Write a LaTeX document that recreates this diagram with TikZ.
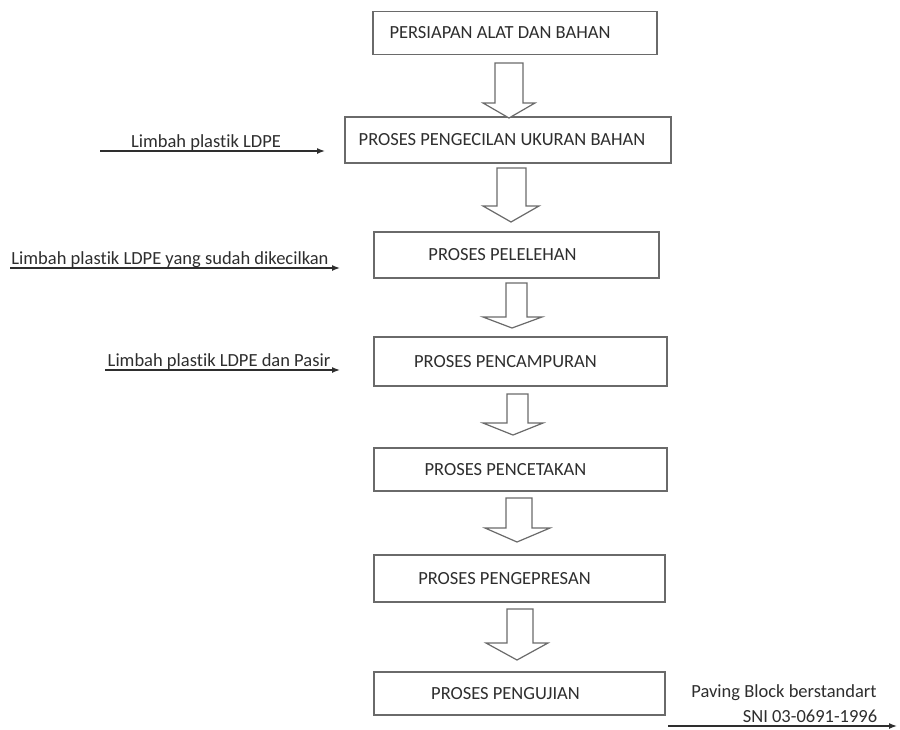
\documentclass[tikz,border=0pt]{standalone}
\usepackage{fontspec}
\setmainfont{Carlito}[Ligatures=NoCommon]
\usetikzlibrary{arrows.meta}
\definecolor{txt}{HTML}{2E2E2E}
\definecolor{edge}{HTML}{6A6A6A}
\begin{document}
\begin{tikzpicture}[x=1pt,y=-1pt,
  box/.style={draw=edge, line width=1.4pt, inner sep=0pt, text=txt, font=\fontsize{18.5}{22}\selectfont},
  blockarrow/.style={draw=edge, line width=1.2pt, fill=white, line join=miter},
  side/.style={draw=txt, line width=1.4pt, -{Latex[length=8pt,width=6pt]}},
  lbl/.style={text=txt, inner sep=0pt, anchor=base, font=\fontsize{18.5}{22}\selectfont}]
\useasboundingbox (0,0) rectangle (900,729);
\fill[white] (0,0) rectangle (900,729);
% process boxes
\node[box, minimum width=284pt, minimum height=43pt] (b1) at (515,33) {PERSIAPAN ALAT DAN BAHAN\hspace*{30pt}};
\node[box, minimum width=326pt, minimum height=46pt] (b2) at (508,140) {PROSES PENGECILAN UKURAN BAHAN\hspace*{12pt}};
\node[box, minimum width=285pt, minimum height=46pt] (b3) at (516.5,255) {PROSES PELELEHAN\hspace*{28pt}};
\node[box, minimum width=293pt, minimum height=49pt] (b4) at (520.5,361.5) {PROSES PENCAMPURAN\hspace*{30pt}};
\node[box, minimum width=293pt, minimum height=43pt] (b5) at (520.5,469.5) {PROSES PENCETAKAN\hspace*{30pt}};
\node[box, minimum width=291pt, minimum height=47pt] (b6) at (519.5,578.5) {PROSES PENGEPRESAN\hspace*{30pt}};
\node[box, minimum width=291pt, minimum height=43pt] (b7) at (519.5,693.5) {PROSES PENGUJIAN\hspace*{28pt}};
% block arrows
\draw[blockarrow] (495,63) -- (523,63) -- (523,103) -- (535,103) -- (509,118) -- (483,103) -- (495,103) -- cycle;
\draw[blockarrow] (497,168) -- (526,168) -- (526,206) -- (539,206) -- (511,222) -- (483,206) -- (497,206) -- cycle;
\draw[blockarrow] (506,283) -- (527,283) -- (527,317) -- (542,317) -- (512,328) -- (483,317) -- (506,317) -- cycle;
\draw[blockarrow] (507,394) -- (528,394) -- (528,423) -- (543,423) -- (513,435) -- (483,423) -- (507,423) -- cycle;
\draw[blockarrow] (506,498) -- (532,498) -- (532,528) -- (550,528) -- (517,542) -- (485,528) -- (506,528) -- cycle;
\draw[blockarrow] (507,609) -- (533,609) -- (533,643) -- (548,643) -- (517,660) -- (486,643) -- (507,643) -- cycle;
% side inputs / output
\coordinate (s1) at (100,151); \coordinate (e1) at (325,151);
\coordinate (s2) at (10,268);  \coordinate (e2) at (340,268);
\coordinate (s3) at (105,370); \coordinate (e3) at (340,370);
\coordinate (s4) at (668,726); \coordinate (e4) at (897,726);
\draw[side] (s1) -- (e1);
\draw[side] (s2) -- (e2);
\draw[side] (s3) -- (e3);
\draw[side] (s4) -- (e4);
\node[lbl] (l1) at (206,147.5) {Limbah plastik LDPE};
\node[lbl] (l2) at (170,264.5) {Limbah plastik LDPE yang sudah dikecilkan};
\node[lbl] (l3) at (219,366.5) {Limbah plastik LDPE dan Pasir};
\node[lbl] (l4) at (784,697) {Paving Block berstandart};
\node[lbl] (l5) at (810,722) {SNI 03-0691-1996};
\end{tikzpicture}
\end{document}
